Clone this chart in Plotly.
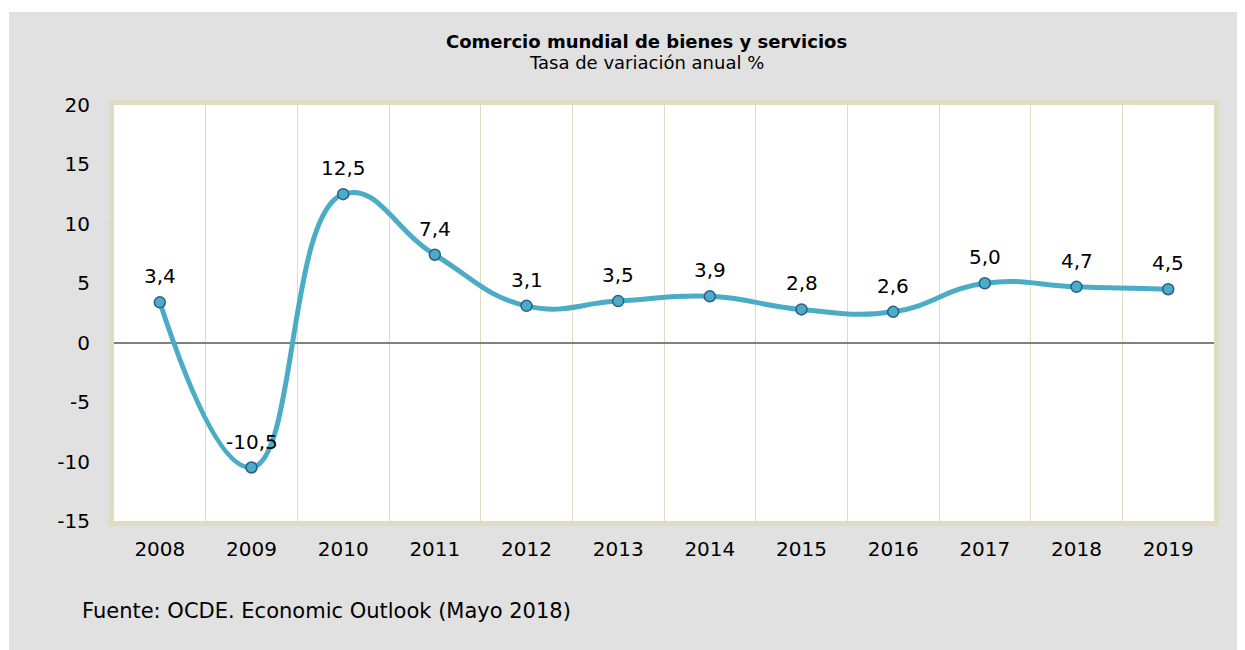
import plotly.graph_objects as go

years = ["2008", "2009", "2010", "2011", "2012", "2013", "2014", "2015", "2016", "2017", "2018", "2019"]
values = [3.4, -10.5, 12.5, 7.4, 3.1, 3.5, 3.9, 2.8, 2.6, 5.0, 4.7, 4.5]
labels = ["3,4", "-10,5", "12,5", "7,4", "3,1", "3,5", "3,9", "2,8", "2,6", "5,0", "4,7", "4,5"]
y_ticks = [-15, -10, -5, 0, 5, 10, 15, 20]

# page geometry (the html body adds an 8px offset)
OFF = 8
W, H = 1245, 650
PL, PR, PT, PB = 114, 1214, 105, 521  # plot area in page pixels
L = PL - OFF
T = PT - OFF
R = W - (PR - OFF)
B = H - (PB - OFF)
PW, PH = PR - PL, PB - PT

def px(x):
    return (x - PL) / PW

def py(y):
    return (PB - y) / PH

FONT = "DejaVu Sans, Verdana, sans-serif"
LINE = "#4BACC6"
BEIGE = "#E0DBC3"

fig = go.Figure()
fig.add_trace(go.Scatter(
    x=years, y=values, mode="lines+markers",
    line=dict(color=LINE, width=5, shape="spline", smoothing=1.3),
    marker=dict(size=11, color=LINE, line=dict(color="#2E5B8C", width=1.5)),
    hoverinfo="skip", showlegend=False,
))

annotations = []
for i, (v, lab) in enumerate(zip(values, labels)):
    annotations.append(dict(x=i, y=v, xref="x", yref="y", text=lab, showarrow=False,
                            yshift=26, font=dict(family=FONT, size=20, color="#000000")))

annotations += [
    dict(x=px(646), y=py(42), xref="paper", yref="paper", showarrow=False,
         text="<b>Comercio mundial de bienes y servicios</b>",
         font=dict(family=FONT, size=18, color="#000000"), xanchor="center", yanchor="middle"),
    dict(x=px(646), y=py(63), xref="paper", yref="paper", showarrow=False,
         text="Tasa de variación anual %",
         font=dict(family=FONT, size=18, color="#000000"), xanchor="center", yanchor="middle"),
    dict(x=px(80), y=py(611), xref="paper", yref="paper", showarrow=False,
         text="Fuente: OCDE. Economic Outlook (Mayo 2018)",
         font=dict(family=FONT, size=21, color="#000000"), xanchor="left", yanchor="middle"),
]

shapes = [
    dict(type="rect", xref="paper", yref="paper", x0=px(0), x1=px(W + 20), y0=py(12), y1=py(-20),
         fillcolor="white", line=dict(width=0), layer="above"),
    dict(type="rect", xref="paper", yref="paper", x0=px(-20), x1=px(9), y0=py(H + 20), y1=py(-20),
         fillcolor="white", line=dict(width=0), layer="above"),
]

fig.update_layout(
    width=W, height=H,
    margin=dict(l=L, r=R, t=T, b=B, autoexpand=False),
    paper_bgcolor="#E1E1E1", plot_bgcolor="white",
    annotations=annotations, shapes=shapes,
    font=dict(family=FONT, size=20, color="#000000"),
)
fig.update_xaxes(
    type="category", categoryorder="array", categoryarray=years,
    tickson="boundaries", showgrid=True, gridcolor=BEIGE, gridwidth=1,
    ticks="", showline=True, mirror=True, linecolor=BEIGE, linewidth=5,
    tickfont=dict(family=FONT, size=20, color="#000000"), ticklabelstandoff=6,
    range=[-0.5, 11.5], fixedrange=True,
)
fig.update_yaxes(
    range=[-15, 20], tickvals=y_ticks, ticktext=[str(v) for v in y_ticks],
    showgrid=False, zeroline=True, zerolinecolor="#808080", zerolinewidth=1.5,
    ticks="outside", ticklen=6, tickcolor=BEIGE, tickwidth=1,
    showline=True, mirror=True, linecolor=BEIGE, linewidth=5,
    tickfont=dict(family=FONT, size=20, color="#000000"), ticklabelstandoff=9,
    fixedrange=True,
)

fig.write_html("out.html", config={"displayModeBar": False})
